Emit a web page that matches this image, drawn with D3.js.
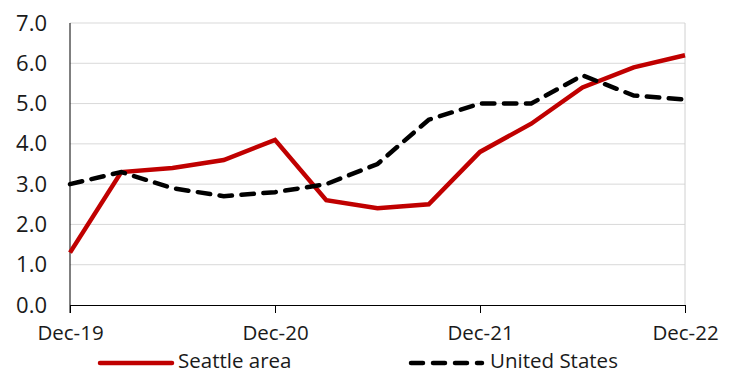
<!DOCTYPE html>
<html>
<head>
<script src="https://d3js.org/d3.v7.min.js"></script>
<style>
body { margin: 0; background: #fff; }
svg text { font-family: "Open Sans", "Noto Sans", sans-serif; fill: #1a1a1a; }
</style>
</head>
<body>
<div id="chart"></div>
<script>
// quarterly points, Dec-19 .. Dec-22
var periods = ["Dec-19","Mar-20","Jun-20","Sep-20","Dec-20","Mar-21","Jun-21","Sep-21","Dec-21","Mar-22","Jun-22","Sep-22","Dec-22"];
var seattle = [1.3, 3.3, 3.4, 3.6, 4.1, 2.6, 2.4, 2.5, 3.8, 4.5, 5.4, 5.9, 6.2];
var unitedStates = [3.0, 3.3, 2.9, 2.7, 2.8, 3.0, 3.5, 4.6, 5.0, 5.0, 5.7, 5.2, 5.1];
var xTickLabels = ["Dec-19", "Dec-20", "Dec-21", "Dec-22"];
var yTicks = [0, 1, 2, 3, 4, 5, 6, 7];

var width = 733, height = 374;
var margin = { top: 23, right: 48, bottom: 69, left: 70 };

var svg = d3.select("#chart").append("svg")
  .attr("width", width)
  .attr("height", height);

var x = d3.scaleLinear()
  .domain([0, periods.length - 1])
  .range([margin.left, width - margin.right]);
var y = d3.scaleLinear()
  .domain([0, 7])
  .range([height - margin.bottom, margin.top]);

// gridlines
svg.append("g")
  .selectAll("line")
  .data(yTicks.filter(d => d > 0))
  .enter().append("line")
  .attr("x1", margin.left)
  .attr("x2", width - margin.right)
  .attr("y1", d => y(d))
  .attr("y2", d => y(d))
  .attr("stroke", "#d9d9d9")
  .attr("stroke-width", 1);

// right border
svg.append("line")
  .attr("x1", width - margin.right).attr("x2", width - margin.right)
  .attr("y1", margin.top).attr("y2", y(0))
  .attr("stroke", "#d0d0d0");

// y axis
var yAxis = svg.append("g")
  .attr("transform", `translate(${margin.left},0)`)
  .call(d3.axisLeft(y).tickValues(yTicks).tickFormat(d3.format(".1f")).tickSize(0).tickPadding(23));
yAxis.select(".domain").remove();
yAxis.selectAll("text")
  .style("font-size", "22px");
svg.append("line")
  .attr("x1", margin.left).attr("x2", margin.left)
  .attr("y1", margin.top).attr("y2", y(0) + 8)
  .attr("stroke", "#000");

// x axis
var xAxis = svg.append("g")
  .attr("transform", `translate(0,${y(0)})`)
  .call(d3.axisBottom(x)
    .tickValues([0, 4, 8, 12])
    .tickFormat((d, i) => xTickLabels[i])
    .tickSize(8).tickSizeOuter(0).tickPadding(12));
xAxis.select(".domain").attr("stroke", "#000");
xAxis.selectAll(".tick line").attr("stroke", "#000");
xAxis.selectAll("text")
  .style("font-size", "20.5px");

var line = d3.line()
  .x((d, i) => x(i))
  .y(d => y(d));

svg.append("path")
  .datum(seattle)
  .attr("d", line)
  .attr("fill", "none")
  .attr("stroke", "#c00000")
  .attr("stroke-width", 4.5);

svg.append("path")
  .datum(unitedStates)
  .attr("d", line)
  .attr("fill", "none")
  .attr("stroke", "#000")
  .attr("stroke-width", 4.5)
  .attr("stroke-linecap", "round")
  .attr("stroke-dasharray", "12.5,9.5");

// legend
var legY = 363;
var legend = svg.append("g");
legend.append("line")
  .attr("x1", 100).attr("x2", 172).attr("y1", legY).attr("y2", legY)
  .attr("stroke", "#c00000").attr("stroke-width", 4.5)
  .attr("stroke-linecap", "round");
legend.append("text")
  .attr("x", 178).attr("y", legY + 5)
  .style("font-size", "20.5px")
  .text("Seattle area");
legend.append("line")
  .attr("x1", 411).attr("x2", 482).attr("y1", legY).attr("y2", legY)
  .attr("stroke", "#000").attr("stroke-width", 4.5)
  .attr("stroke-linecap", "round")
  .attr("stroke-dasharray", "12,10");
legend.append("text")
  .attr("x", 490).attr("y", legY + 5)
  .style("font-size", "20.5px")
  .text("United States");
</script>
</body>
</html>
